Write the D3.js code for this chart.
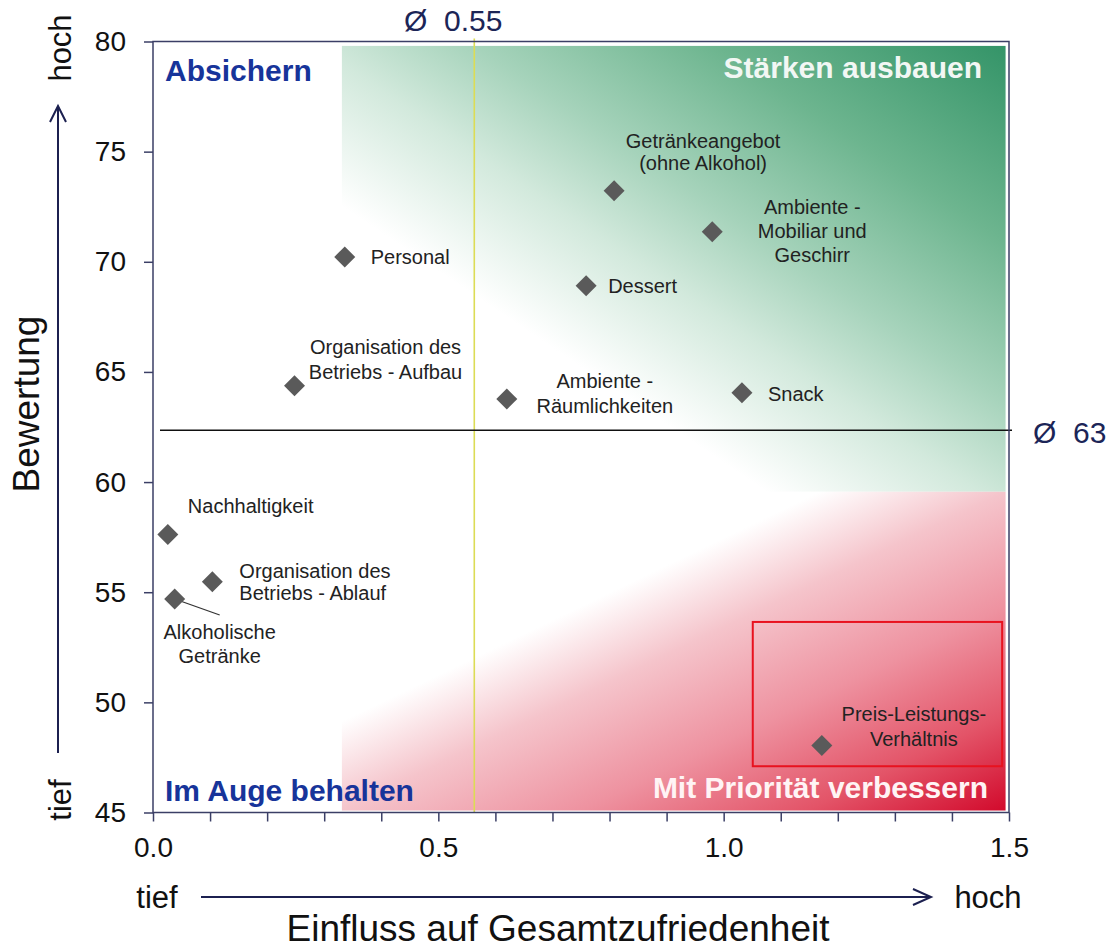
<!DOCTYPE html>
<html>
<head>
<meta charset="utf-8">
<title>Einfluss auf Gesamtzufriedenheit vs. Bewertung</title>
<style>
  body { margin: 0; background: #fff; }
  svg { display: block; font-family: "Liberation Sans", Arial, sans-serif; }
  .axis path { display: none; }
  .axis line { stroke: #3b3f66; stroke-width: 1.5px; }
  .axis text { font-size: 28px; fill: #111; font-family: "Liberation Sans", Arial, sans-serif; }
  .pt-label { font-size: 20px; fill: #222; }
  .quad { font-size: 30px; font-weight: bold; }
  .avg { font-size: 30px; fill: #1c2557; white-space: pre; }
  .dir { font-size: 31px; fill: #111; }
  .title { font-size: 37px; fill: #111; }
</style>
</head>
<body>
<svg width="1113" height="952"></svg>
<script src="https://d3js.org/d3.v7.min.js"></script>
<script>

// --- data ---
var names = [
  ["Personal"],
  ["Getränkeangebot", "(ohne Alkohol)"],
  ["Ambiente -", "Mobiliar und", "Geschirr"],
  ["Dessert"],
  ["Organisation des", "Betriebs - Aufbau"],
  ["Ambiente -", "Räumlichkeiten"],
  ["Snack"],
  ["Nachhaltigkeit"],
  ["Organisation des", "Betriebs - Ablauf"],
  ["Alkoholische", "Getränke"],
  ["Preis-Leistungs-", "Verhältnis"]
];
var einfluss  = [0.336, 0.808, 0.980, 0.759, 0.248, 0.620, 1.032, 0.026, 0.104, 0.038, 1.172];
var bewertung = [70.22, 73.22, 71.36, 68.91, 64.37, 63.77, 64.05, 57.62, 55.48, 54.69, 48.04];

var xTickLabels = [0.0, 0.5, 1.0, 1.5];
var xMinorTicks = [0.1, 0.2, 0.3, 0.4, 0.6, 0.7, 0.8, 0.9, 1.1, 1.2, 1.3, 1.4];
var yTickLabels = [45, 50, 55, 60, 65, 70, 75, 80];

var avgEinfluss = 0.563, avgEinflussText = "Ø  0.55";
var avgBewertung = 62.35, avgBewertungText = "Ø  63";

var quadNames = ["Absichern", "Stärken ausbauen", "Im Auge behalten", "Mit Priorität verbessern"];

// shaded zones and the red frame, in data units
var greenZone = {x0: 0.331, x1: 1.494, y0: 79.8, y1: 59.56};
var redZone   = {x0: 0.331, x1: 1.494, y0: 59.56, y1: 45.09};
var focusBox  = {x0: 1.051, x1: 1.488, y0: 53.65, y1: 47.1};

// --- layout: where each label sits next to its point (px) ---
var labelLayout = [
  {anchor: "start",  dx: 26, dy: [0]},
  {anchor: "middle", dx: 89, dy: [-50, -28]},
  {anchor: "middle", dx: 100, dy: [-25, -1, 23]},
  {anchor: "start",  dx: 22, dy: [0]},
  {anchor: "middle", dx: 91, dy: [-39, -14]},
  {anchor: "middle", dx: 98, dy: [-18, 7]},
  {anchor: "start",  dx: 26, dy: [1]},
  {anchor: "start",  dx: 20, dy: [-28]},
  {anchor: "start",  dx: 27, dy: [-11, 11]},
  {anchor: "middle", dx: 45, dy: [33, 57], leader: [45, 16]},
  {anchor: "middle", dx: 92, dy: [-32, -7]}
];

var svg = d3.select("svg"),
    margin = {top: 41.5, right: 104, bottom: 139, left: 153},
    width = 1113 - margin.left - margin.right,
    height = 952 - margin.top - margin.bottom - 0.5,
    g = svg.append("g").attr("transform", "translate(" + margin.left + "," + margin.top + ")");

var x = d3.scaleLinear().domain([0, 1.5]).range([0, width]),
    y = d3.scaleLinear().domain([45, 80]).range([height, 0]);

var points = names.map(function(n, i) {
  return {lines: n, x: einfluss[i], y: bewertung[i], lay: labelLayout[i]};
});

// gradients
var defs = svg.append("defs");
var gGreen = defs.append("linearGradient").attr("id", "green")
    .attr("x1", 1).attr("y1", 0).attr("x2", 0).attr("y2", 1);
[[0, "#349468"], [0.22, "#6db58f"], [0.4, "#a6d3bb"], [0.52, "#d2e9dc"], [0.68, "#ffffff"], [1, "#ffffff"]]
  .forEach(function(s) { gGreen.append("stop").attr("offset", s[0]).attr("stop-color", s[1]); });
var gRed = defs.append("linearGradient").attr("id", "red")
    .attr("x1", 0).attr("y1", 0).attr("x2", 1).attr("y2", 1);
[[0, "#ffffff"], [0.36, "#ffffff"], [0.5, "#f5c4cb"], [0.68, "#ee92a0"], [0.85, "#e35468"], [1, "#d20a2c"]]
  .forEach(function(s) { gRed.append("stop").attr("offset", s[0]).attr("stop-color", s[1]); });

function zone(z, fill) {
  g.append("rect")
    .attr("x", x(z.x0)).attr("y", y(z.y0))
    .attr("width", x(z.x1) - x(z.x0)).attr("height", y(z.y1) - y(z.y0))
    .attr("fill", fill);
}
zone(greenZone, "url(#green)");
zone(redZone, "url(#red)");

// red frame round the priority point
g.append("rect")
  .attr("x", x(focusBox.x0)).attr("y", y(focusBox.y0))
  .attr("width", x(focusBox.x1) - x(focusBox.x0)).attr("height", y(focusBox.y1) - y(focusBox.y0))
  .attr("fill", "none").attr("stroke", "#e8121f").attr("stroke-width", 2);

// average lines
g.append("line")
  .attr("x1", x(avgEinfluss)).attr("x2", x(avgEinfluss))
  .attr("y1", -3).attr("y2", height)
  .attr("stroke", "#dcdc55").attr("stroke-width", 1.6);
g.append("line")
  .attr("x1", 7).attr("x2", width + 3)
  .attr("y1", y(avgBewertung)).attr("y2", y(avgBewertung))
  .attr("stroke", "#111").attr("stroke-width", 1.5);

// frame
g.append("rect").attr("width", width).attr("height", height)
  .attr("fill", "none").attr("stroke", "#3b3f66").attr("stroke-width", 1.5);

// axes
g.append("g").attr("class", "axis axis--y")
  .call(d3.axisLeft(y).tickValues(yTickLabels).tickSize(9).tickPadding(18).tickFormat(d3.format("d")));

g.append("g").attr("class", "axis axis--x")
  .attr("transform", "translate(0," + height + ")")
  .call(d3.axisBottom(x).tickValues(xTickLabels).tickSize(9).tickPadding(16).tickFormat(d3.format(".1f")));

g.append("g").attr("class", "axis axis--x-minor")
  .attr("transform", "translate(0," + height + ")")
  .call(d3.axisBottom(x).tickValues(xMinorTicks).tickSize(9).tickFormat(""));

// leader line for "Alkoholische Getränke"
points.forEach(function(p) {
  if (!p.lay.leader) return;
  g.append("line")
    .attr("x1", x(p.x)).attr("y1", y(p.y))
    .attr("x2", x(p.x) + p.lay.leader[0]).attr("y2", y(p.y) + p.lay.leader[1])
    .attr("stroke", "#333").attr("stroke-width", 1.2);
});

// points
g.selectAll(".pt")
  .data(points)
  .enter().append("path")
    .attr("class", "pt")
    .attr("d", d3.symbol(d3.symbolSquare, 220))
    .attr("transform", function(d) { return "translate(" + x(d.x) + "," + y(d.y) + ") rotate(45)"; })
    .attr("fill", "#5a5a5a");

var lbl = g.selectAll(".pt-label")
  .data(points)
  .enter().append("text")
    .attr("class", "pt-label")
    .attr("text-anchor", function(d) { return d.lay.anchor; });

lbl.selectAll("tspan")
  .data(function(d) { return d.lines.map(function(t, i) { return {t: t, p: d, i: i}; }); })
  .enter().append("tspan")
    .attr("x", function(d) { return x(d.p.x) + d.p.lay.dx; })
    .attr("y", function(d) { return y(d.p.y) + d.p.lay.dy[d.i]; })
    .attr("dy", "0.35em")
    .text(function(d) { return d.t; });

// quadrant names
var quad = [
  {t: quadNames[0], x: 12, y: 29, a: "start", c: "#17349a"},
  {t: quadNames[1], x: width - 27, y: 26, a: "end", c: "#f2f7f4"},
  {t: quadNames[2], x: 12, y: height - 22, a: "start", c: "#17349a"},
  {t: quadNames[3], x: width - 21, y: height - 25, a: "end", c: "#fff4f5"}
];
g.selectAll(".quad")
  .data(quad)
  .enter().append("text")
    .attr("class", "quad")
    .attr("x", function(d) { return d.x; })
    .attr("y", function(d) { return d.y; })
    .attr("dy", "0.35em")
    .attr("text-anchor", function(d) { return d.a; })
    .attr("fill", function(d) { return d.c; })
    .text(function(d) { return d.t; });

// average labels
g.append("text").attr("class", "avg")
  .attr("x", x(avgEinfluss) - 21).attr("y", -21).attr("dy", "0.35em")
  .attr("text-anchor", "middle").text(avgEinflussText);
g.append("text").attr("class", "avg")
  .attr("x", width + 24).attr("y", y(avgBewertung) + 2).attr("dy", "0.35em")
  .text(avgBewertungText);

// direction arrows and axis titles
var arrow = "#1c2050";
svg.append("line").attr("x1", 58).attr("y1", 753).attr("x2", 58).attr("y2", 106)
  .attr("stroke", arrow).attr("stroke-width", 2);
svg.append("path").attr("d", "M50,122L58,106L66,122")
  .attr("fill", "none").attr("stroke", arrow).attr("stroke-width", 2);
svg.append("line").attr("x1", 201).attr("y1", 897).attr("x2", 931).attr("y2", 897)
  .attr("stroke", arrow).attr("stroke-width", 2);
svg.append("path").attr("d", "M913,889L931,897L913,905")
  .attr("fill", "none").attr("stroke", arrow).attr("stroke-width", 2);

svg.append("text").attr("class", "dir").attr("transform", "translate(60,48) rotate(-90)")
  .attr("text-anchor", "middle").attr("dy", "0.35em").text("hoch");
svg.append("text").attr("class", "dir").attr("transform", "translate(60,800) rotate(-90)")
  .attr("text-anchor", "middle").attr("dy", "0.35em").text("tief");
svg.append("text").attr("class", "dir").attr("x", 157).attr("y", 897)
  .attr("text-anchor", "middle").attr("dy", "0.35em").text("tief");
svg.append("text").attr("class", "dir").attr("x", 988).attr("y", 897)
  .attr("text-anchor", "middle").attr("dy", "0.35em").text("hoch");

svg.append("text").attr("class", "title").attr("transform", "translate(26,404) rotate(-90)")
  .attr("text-anchor", "middle").attr("dy", "0.35em").text("Bewertung");
svg.append("text").attr("class", "title").attr("x", 558).attr("y", 928)
  .attr("text-anchor", "middle").attr("dy", "0.35em").text("Einfluss auf Gesamtzufriedenheit");

</script>
</body>
</html>
